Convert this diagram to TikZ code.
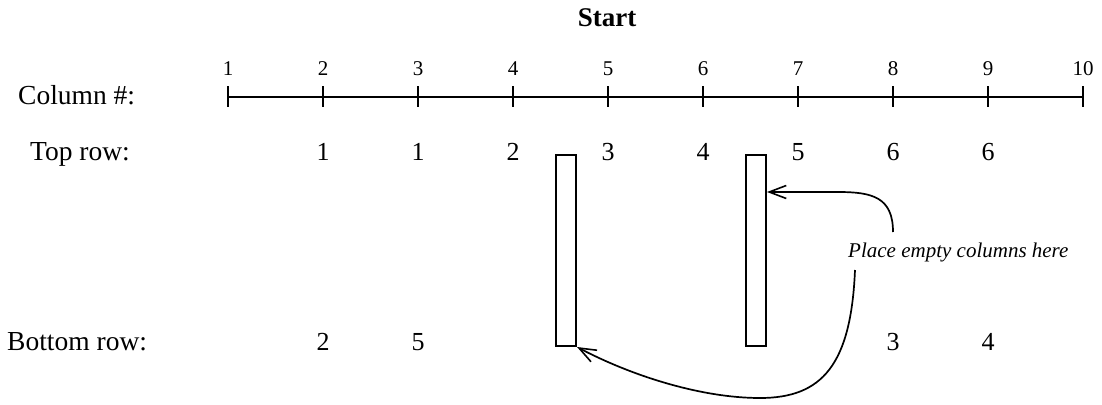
\documentclass[tikz,border=0pt]{standalone}
\usepackage{fontspec}
\setmainfont{Liberation Serif}
\usetikzlibrary{arrows.meta}
\begin{document}
\begin{tikzpicture}[x=1pt,y=-1pt,
  lbl/.style={font=\fontsize{27.5}{32}\selectfont, anchor=base west, inner sep=0},
  num/.style={font=\fontsize{26}{30}\selectfont, anchor=base, inner sep=0},
  ticklbl/.style={font=\fontsize{21}{25}\selectfont, anchor=base, inner sep=0},
  colbox/.style={draw, line width=2pt, inner sep=0, minimum width=20pt, minimum height=191pt, anchor=north west},
  arr/.style={line width=1.7pt, -{Straight Barb[length=17pt,width=13pt,line width=1.6pt]}},
  axisline/.style={line width=1.8pt}]
\useasboundingbox (0,0) rectangle (1102,404);
\node[font=\bfseries\fontsize{27}{32}\selectfont, anchor=base, inner sep=0] (title) at (607,27) {Start};
\node[lbl] (colhead) at (18,104) {Column \#:};
\node[lbl] (tophead) at (30,160) {Top row:};
\node[lbl] (bothead) at (7,350) {Bottom row:};
\foreach \i in {1,...,10} {
  \coordinate (t\i) at ({228+(\i-1)*95},97);
  \draw[axisline] ([yshift=11pt]t\i) -- ([yshift=-10pt]t\i);
  \node[ticklbl] (tl\i) at ({228+(\i-1)*95},75) {\i};
}
\draw[axisline] (t1) -- (t10);
\foreach \i/\v in {2/1,3/1,4/2,5/3,6/4,7/5,8/6,9/6} {
  \node[num] (top\i) at ({228+(\i-1)*95},160) {\v};
}
\foreach \i/\v in {2/2,3/5,8/3,9/4} {
  \node[num] (bot\i) at ({228+(\i-1)*95},350) {\v};
}
\node[colbox] (r1) at (555,154) {};
\node[colbox] (r2) at (745,154) {};
\node[font=\itshape\fontsize{21}{25}\selectfont, anchor=base west, inner sep=0] (note) at (848,257) {Place empty columns here};
\coordinate (a1s) at (893,232);
\coordinate (a2s) at (855,270);
\draw[arr] (a1s) .. controls (893,197) and (872,192) .. (838,192) -- ([yshift=-38pt]r2.north east);
\draw[arr] (a2s) .. controls (851,365) and (822,398) .. (760,398) .. controls (700,398) and (630,375) .. (r1.south east);
\end{tikzpicture}
\end{document}
